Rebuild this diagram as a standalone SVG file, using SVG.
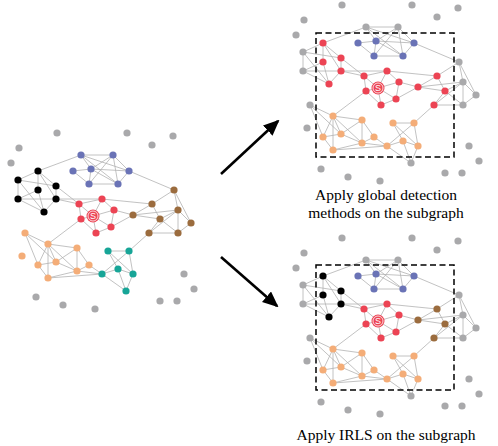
<svg xmlns="http://www.w3.org/2000/svg" xmlns:xlink="http://www.w3.org/1999/xlink" width="498" height="446" viewBox="0 0 498 446">
<style>
.k{fill:#000}.b{fill:#6a73b6}.r{fill:#ec4454}.w{fill:#9b6c3e}.t{fill:#17a597}.o{fill:#f4ad78}.g{fill:#a9a9ab}
.e{fill:none;stroke:#b3b3b3;stroke-width:0.8}
.box{fill:none;stroke:#000;stroke-width:1.5;stroke-dasharray:6 3.5}
.lbl{font-family:"Liberation Serif","Times New Roman",serif;font-size:15.5px;fill:#000;text-anchor:middle}
.st{font-family:"Liberation Sans",Arial,sans-serif;font-size:9px;fill:#fff;text-anchor:middle}
.arr{stroke:#000;stroke-width:2.6;fill:none}
</style>
<defs>
<marker id="ah" markerUnits="userSpaceOnUse" markerWidth="16" markerHeight="14" refX="14" refY="7" orient="auto">
<path d="M0 0L16 7L0 14z" fill="#000"/>
</marker>
<path id="E" class="e" d="M38 171L81 155M38 171L18 180M38 171L38 190M38 171L56 186M38 171L56 199M18 180L56 186M18 180L18 199M18 180L44 212M38 190L18 199M38 190L44 212M56 186L56 199M56 186L79 204M18 199L56 199M18 199L44 212M56 199L44 212M56 199L79 204M56 199L102 199
M81 155L113 155M81 155L91 169M81 155L129 171M81 155L118 184M113 155L91 169M113 155L89 184M113 155L129 171M113 155L118 184M73 171L91 169M73 171L89 184M91 169L89 184M91 169L129 171M91 169L118 184M89 184L118 184M129 171L118 184M129 171L174 190
M79 204L102 199M79 204L81 219M79 204L93 216M102 199L93 216M102 199L114 210M102 199L152 204M114 210L111 227M114 210L133 215M114 210L93 216M81 219L93 216M81 219L96 233M81 219L48 244M93 216L96 233M93 216L111 227M96 233L111 227M111 227L133 215
M174 190L152 204M174 190L178 210M174 190L191 223M152 204L133 215M152 204L160 219M133 215L160 219M133 215L178 210M160 219L178 210M160 219L149 233M160 219L178 233M178 210L191 223M178 210L178 233M191 223L178 233M149 233L178 233M149 233L178 210M149 233L129 251
M108 251L129 251M108 251L118 269M108 251L133 274M129 251L102 274M129 251L133 274M118 269L102 274M118 269L133 274M118 269L126 291M102 274L126 291M133 274L126 291
M25 233L48 244M25 233L38 265M25 233L56 262M48 244L77 248M48 244L38 265M48 244L56 262M48 244L48 278M48 244L77 271M77 248L56 262M77 248L77 271M77 248L89 265M38 265L56 262M38 265L48 278M56 262L77 271M89 265L77 271M77 271L48 278M48 278L102 274M77 271L102 274M89 265L102 274"/>
</defs>

<g id="connectors">
<use xlink:href="#E" href="#E"/>
<use xlink:href="#E" href="#E" transform="translate(285,-128)"/>
<use xlink:href="#E" href="#E" transform="translate(285,105)"/>
<path class="arr" d="M221 174L278 121" marker-end="url(#ah)"/>
<path class="arr" d="M221 257L277 306" marker-end="url(#ah)"/>
</g>

<rect class="box" x="316" y="33" width="138" height="124"/>
<rect class="box" x="316" y="265" width="138" height="125"/>

<g id="graph-left">
<g id="L-K1"><circle cx="38" cy="171" r="3.6" class="k"/></g>
<g id="L-K2"><circle cx="18" cy="180" r="3.6" class="k"/></g>
<g id="L-K3"><circle cx="38" cy="190" r="3.6" class="k"/></g>
<g id="L-K4"><circle cx="56" cy="186" r="3.6" class="k"/></g>
<g id="L-K5"><circle cx="18" cy="199" r="3.6" class="k"/></g>
<g id="L-K6"><circle cx="56" cy="199" r="3.6" class="k"/></g>
<g id="L-K7"><circle cx="44" cy="212" r="3.6" class="k"/></g>
<g id="L-B1"><circle cx="81" cy="155" r="3.6" class="b"/></g>
<g id="L-B2"><circle cx="113" cy="155" r="3.6" class="b"/></g>
<g id="L-B3"><circle cx="73" cy="171" r="3.6" class="b"/></g>
<g id="L-B4"><circle cx="91" cy="169" r="3.6" class="b"/></g>
<g id="L-B5"><circle cx="129" cy="171" r="3.6" class="b"/></g>
<g id="L-B6"><circle cx="89" cy="184" r="3.6" class="b"/></g>
<g id="L-B7"><circle cx="118" cy="184" r="3.6" class="b"/></g>
<g id="L-R1"><circle cx="79" cy="204" r="3.6" class="r"/></g>
<g id="L-R2"><circle cx="102" cy="199" r="3.6" class="r"/></g>
<g id="L-R3"><circle cx="114" cy="210" r="3.6" class="r"/></g>
<g id="L-R4"><circle cx="81" cy="219" r="3.6" class="r"/></g>
<g id="L-R5"><circle cx="96" cy="233" r="3.6" class="r"/></g>
<g id="L-R6"><circle cx="111" cy="227" r="3.6" class="r"/></g>
<g id="L-S"><circle cx="93" cy="216" r="6.5" class="r"/><circle cx="93" cy="216" r="5" fill="none" stroke="#fff" stroke-width="0.8"/><text x="93" y="219.3" class="st">S</text></g>
<g id="L-W1"><circle cx="174" cy="190" r="3.6" class="w"/></g>
<g id="L-W2"><circle cx="152" cy="204" r="3.6" class="w"/></g>
<g id="L-W3"><circle cx="133" cy="215" r="3.6" class="w"/></g>
<g id="L-W4"><circle cx="160" cy="219" r="3.6" class="w"/></g>
<g id="L-W5"><circle cx="178" cy="210" r="3.6" class="w"/></g>
<g id="L-W6"><circle cx="191" cy="223" r="3.6" class="w"/></g>
<g id="L-W7"><circle cx="149" cy="233" r="3.6" class="w"/></g>
<g id="L-W8"><circle cx="178" cy="233" r="3.6" class="w"/></g>
<g id="L-T1"><circle cx="108" cy="251" r="3.6" class="t"/></g>
<g id="L-T2"><circle cx="129" cy="251" r="3.6" class="t"/></g>
<g id="L-T3"><circle cx="118" cy="269" r="3.6" class="t"/></g>
<g id="L-T4"><circle cx="102" cy="274" r="3.6" class="t"/></g>
<g id="L-T5"><circle cx="133" cy="274" r="3.6" class="t"/></g>
<g id="L-T6"><circle cx="126" cy="291" r="3.6" class="t"/></g>
<g id="L-O1"><circle cx="25" cy="233" r="3.6" class="o"/></g>
<g id="L-O2"><circle cx="48" cy="244" r="3.6" class="o"/></g>
<g id="L-O3"><circle cx="77" cy="248" r="3.6" class="o"/></g>
<g id="L-O4"><circle cx="22" cy="256" r="3.6" class="o"/></g>
<g id="L-O5"><circle cx="38" cy="265" r="3.6" class="o"/></g>
<g id="L-O6"><circle cx="56" cy="262" r="3.6" class="o"/></g>
<g id="L-O7"><circle cx="89" cy="265" r="3.6" class="o"/></g>
<g id="L-O8"><circle cx="77" cy="271" r="3.6" class="o"/></g>
<g id="L-O9"><circle cx="48" cy="278" r="3.6" class="o"/></g>
<g id="L-G1"><circle cx="19" cy="148" r="3.6" class="g"/></g>
<g id="L-G2"><circle cx="11" cy="163" r="3.6" class="g"/></g>
<g id="L-G3"><circle cx="57" cy="133" r="3.6" class="g"/></g>
<g id="L-G4"><circle cx="127" cy="133" r="3.6" class="g"/></g>
<g id="L-G5"><circle cx="152" cy="145" r="3.6" class="g"/></g>
<g id="L-G6"><circle cx="173" cy="136" r="3.6" class="g"/></g>
<g id="L-G7"><circle cx="36" cy="297" r="3.6" class="g"/></g>
<g id="L-G8"><circle cx="63" cy="305" r="3.6" class="g"/></g>
<g id="L-G9"><circle cx="95" cy="309" r="3.6" class="g"/></g>
<g id="L-G10"><circle cx="184" cy="274" r="3.6" class="g"/></g>
<g id="L-G11"><circle cx="194" cy="289" r="3.6" class="g"/></g>
<g id="L-G12"><circle cx="160" cy="301" r="3.6" class="g"/></g>
<g id="L-G13"><circle cx="177" cy="301" r="3.6" class="g"/></g>
</g>

<g id="graph-top" transform="translate(285,-128)">
<g id="A-K1"><circle cx="38" cy="171" r="3.6" class="r"/></g>
<g id="A-K2"><circle cx="18" cy="180" r="3.6" class="g"/></g>
<g id="A-K3"><circle cx="38" cy="190" r="3.6" class="r"/></g>
<g id="A-K4"><circle cx="56" cy="186" r="3.6" class="r"/></g>
<g id="A-K5"><circle cx="18" cy="199" r="3.6" class="g"/></g>
<g id="A-K6"><circle cx="56" cy="199" r="3.6" class="r"/></g>
<g id="A-K7"><circle cx="44" cy="212" r="3.6" class="r"/></g>
<g id="A-B1"><circle cx="81" cy="155" r="3.6" class="g"/></g>
<g id="A-B2"><circle cx="113" cy="155" r="3.6" class="g"/></g>
<g id="A-B3"><circle cx="73" cy="171" r="3.6" class="b"/></g>
<g id="A-B4"><circle cx="91" cy="169" r="3.6" class="b"/></g>
<g id="A-B5"><circle cx="129" cy="171" r="3.6" class="b"/></g>
<g id="A-B6"><circle cx="89" cy="184" r="3.6" class="b"/></g>
<g id="A-B7"><circle cx="118" cy="184" r="3.6" class="b"/></g>
<g id="A-R1"><circle cx="79" cy="204" r="3.6" class="r"/></g>
<g id="A-R2"><circle cx="102" cy="199" r="3.6" class="r"/></g>
<g id="A-R3"><circle cx="114" cy="210" r="3.6" class="r"/></g>
<g id="A-R4"><circle cx="81" cy="219" r="3.6" class="r"/></g>
<g id="A-R5"><circle cx="96" cy="233" r="3.6" class="r"/></g>
<g id="A-R6"><circle cx="111" cy="227" r="3.6" class="r"/></g>
<g id="A-S"><circle cx="93" cy="216" r="6.5" class="r"/><circle cx="93" cy="216" r="5" fill="none" stroke="#fff" stroke-width="0.8"/><text x="93" y="219.3" class="st">S</text></g>
<g id="A-W1"><circle cx="174" cy="190" r="3.6" class="g"/></g>
<g id="A-W2"><circle cx="152" cy="204" r="3.6" class="r"/></g>
<g id="A-W3"><circle cx="133" cy="215" r="3.6" class="r"/></g>
<g id="A-W4"><circle cx="160" cy="219" r="3.6" class="r"/></g>
<g id="A-W5"><circle cx="178" cy="210" r="3.6" class="g"/></g>
<g id="A-W6"><circle cx="191" cy="223" r="3.6" class="g"/></g>
<g id="A-W7"><circle cx="149" cy="233" r="3.6" class="r"/></g>
<g id="A-W8"><circle cx="178" cy="233" r="3.6" class="g"/></g>
<g id="A-T1"><circle cx="108" cy="251" r="3.6" class="o"/></g>
<g id="A-T2"><circle cx="129" cy="251" r="3.6" class="o"/></g>
<g id="A-T3"><circle cx="118" cy="269" r="3.6" class="o"/></g>
<g id="A-T4"><circle cx="102" cy="274" r="3.6" class="o"/></g>
<g id="A-T5"><circle cx="133" cy="274" r="3.6" class="o"/></g>
<g id="A-T6"><circle cx="126" cy="291" r="3.6" class="g"/></g>
<g id="A-O1"><circle cx="25" cy="233" r="3.6" class="g"/></g>
<g id="A-O2"><circle cx="48" cy="244" r="3.6" class="o"/></g>
<g id="A-O3"><circle cx="77" cy="248" r="3.6" class="o"/></g>
<g id="A-O4"><circle cx="22" cy="256" r="3.6" class="g"/></g>
<g id="A-O5"><circle cx="38" cy="265" r="3.6" class="o"/></g>
<g id="A-O6"><circle cx="56" cy="262" r="3.6" class="o"/></g>
<g id="A-O7"><circle cx="89" cy="265" r="3.6" class="o"/></g>
<g id="A-O8"><circle cx="77" cy="271" r="3.6" class="o"/></g>
<g id="A-O9"><circle cx="48" cy="278" r="3.6" class="o"/></g>
<g id="A-G1"><circle cx="19" cy="148" r="3.6" class="g"/></g>
<g id="A-G2"><circle cx="11" cy="163" r="3.6" class="g"/></g>
<g id="A-G3"><circle cx="57" cy="133" r="3.6" class="g"/></g>
<g id="A-G4"><circle cx="127" cy="133" r="3.6" class="g"/></g>
<g id="A-G5"><circle cx="152" cy="145" r="3.6" class="g"/></g>
<g id="A-G6"><circle cx="173" cy="136" r="3.6" class="g"/></g>
<g id="A-G7"><circle cx="36" cy="297" r="3.6" class="g"/></g>
<g id="A-G8"><circle cx="63" cy="305" r="3.6" class="g"/></g>
<g id="A-G9"><circle cx="95" cy="309" r="3.6" class="g"/></g>
<g id="A-G10"><circle cx="184" cy="274" r="3.6" class="g"/></g>
<g id="A-G11"><circle cx="194" cy="289" r="3.6" class="g"/></g>
<g id="A-G12"><circle cx="160" cy="301" r="3.6" class="g"/></g>
<g id="A-G13"><circle cx="177" cy="301" r="3.6" class="g"/></g>
</g>

<g id="graph-bottom" transform="translate(285,105)">
<g id="B-K1"><circle cx="38" cy="171" r="3.6" class="k"/></g>
<g id="B-K2"><circle cx="18" cy="180" r="3.6" class="g"/></g>
<g id="B-K3"><circle cx="38" cy="190" r="3.6" class="k"/></g>
<g id="B-K4"><circle cx="56" cy="186" r="3.6" class="k"/></g>
<g id="B-K5"><circle cx="18" cy="199" r="3.6" class="g"/></g>
<g id="B-K6"><circle cx="56" cy="199" r="3.6" class="k"/></g>
<g id="B-K7"><circle cx="44" cy="212" r="3.6" class="k"/></g>
<g id="B-B1"><circle cx="81" cy="155" r="3.6" class="g"/></g>
<g id="B-B2"><circle cx="113" cy="155" r="3.6" class="g"/></g>
<g id="B-B3"><circle cx="73" cy="171" r="3.6" class="b"/></g>
<g id="B-B4"><circle cx="91" cy="169" r="3.6" class="b"/></g>
<g id="B-B5"><circle cx="129" cy="171" r="3.6" class="b"/></g>
<g id="B-B6"><circle cx="89" cy="184" r="3.6" class="b"/></g>
<g id="B-B7"><circle cx="118" cy="184" r="3.6" class="b"/></g>
<g id="B-R1"><circle cx="79" cy="204" r="3.6" class="r"/></g>
<g id="B-R2"><circle cx="102" cy="199" r="3.6" class="r"/></g>
<g id="B-R3"><circle cx="114" cy="210" r="3.6" class="r"/></g>
<g id="B-R4"><circle cx="81" cy="219" r="3.6" class="r"/></g>
<g id="B-R5"><circle cx="96" cy="233" r="3.6" class="r"/></g>
<g id="B-R6"><circle cx="111" cy="227" r="3.6" class="r"/></g>
<g id="B-S"><circle cx="93" cy="216" r="6.5" class="r"/><circle cx="93" cy="216" r="5" fill="none" stroke="#fff" stroke-width="0.8"/><text x="93" y="219.3" class="st">S</text></g>
<g id="B-W1"><circle cx="174" cy="190" r="3.6" class="g"/></g>
<g id="B-W2"><circle cx="152" cy="204" r="3.6" class="w"/></g>
<g id="B-W3"><circle cx="133" cy="215" r="3.6" class="w"/></g>
<g id="B-W4"><circle cx="160" cy="219" r="3.6" class="w"/></g>
<g id="B-W5"><circle cx="178" cy="210" r="3.6" class="g"/></g>
<g id="B-W6"><circle cx="191" cy="223" r="3.6" class="g"/></g>
<g id="B-W7"><circle cx="149" cy="233" r="3.6" class="w"/></g>
<g id="B-W8"><circle cx="178" cy="233" r="3.6" class="g"/></g>
<g id="B-T1"><circle cx="108" cy="251" r="3.6" class="o"/></g>
<g id="B-T2"><circle cx="129" cy="251" r="3.6" class="o"/></g>
<g id="B-T3"><circle cx="118" cy="269" r="3.6" class="o"/></g>
<g id="B-T4"><circle cx="102" cy="274" r="3.6" class="o"/></g>
<g id="B-T5"><circle cx="133" cy="274" r="3.6" class="o"/></g>
<g id="B-T6"><circle cx="126" cy="291" r="3.6" class="g"/></g>
<g id="B-O1"><circle cx="25" cy="233" r="3.6" class="g"/></g>
<g id="B-O2"><circle cx="48" cy="244" r="3.6" class="o"/></g>
<g id="B-O3"><circle cx="77" cy="248" r="3.6" class="o"/></g>
<g id="B-O4"><circle cx="22" cy="256" r="3.6" class="g"/></g>
<g id="B-O5"><circle cx="38" cy="265" r="3.6" class="o"/></g>
<g id="B-O6"><circle cx="56" cy="262" r="3.6" class="o"/></g>
<g id="B-O7"><circle cx="89" cy="265" r="3.6" class="o"/></g>
<g id="B-O8"><circle cx="77" cy="271" r="3.6" class="o"/></g>
<g id="B-O9"><circle cx="48" cy="278" r="3.6" class="o"/></g>
<g id="B-G1"><circle cx="19" cy="148" r="3.6" class="g"/></g>
<g id="B-G2"><circle cx="11" cy="163" r="3.6" class="g"/></g>
<g id="B-G3"><circle cx="57" cy="133" r="3.6" class="g"/></g>
<g id="B-G4"><circle cx="127" cy="133" r="3.6" class="g"/></g>
<g id="B-G5"><circle cx="152" cy="145" r="3.6" class="g"/></g>
<g id="B-G6"><circle cx="173" cy="136" r="3.6" class="g"/></g>
<g id="B-G7"><circle cx="36" cy="297" r="3.6" class="g"/></g>
<g id="B-G8"><circle cx="63" cy="305" r="3.6" class="g"/></g>
<g id="B-G9"><circle cx="95" cy="309" r="3.6" class="g"/></g>
<g id="B-G10"><circle cx="184" cy="274" r="3.6" class="g"/></g>
<g id="B-G11"><circle cx="194" cy="289" r="3.6" class="g"/></g>
<g id="B-G12"><circle cx="160" cy="301" r="3.6" class="g"/></g>
<g id="B-G13"><circle cx="177" cy="301" r="3.6" class="g"/></g>
</g>

<text class="lbl" x="386" y="200">Apply global detection</text>
<text class="lbl" x="386" y="218">methods on the subgraph</text>
<text class="lbl" x="386" y="440">Apply IRLS on the subgraph</text>
</svg>
